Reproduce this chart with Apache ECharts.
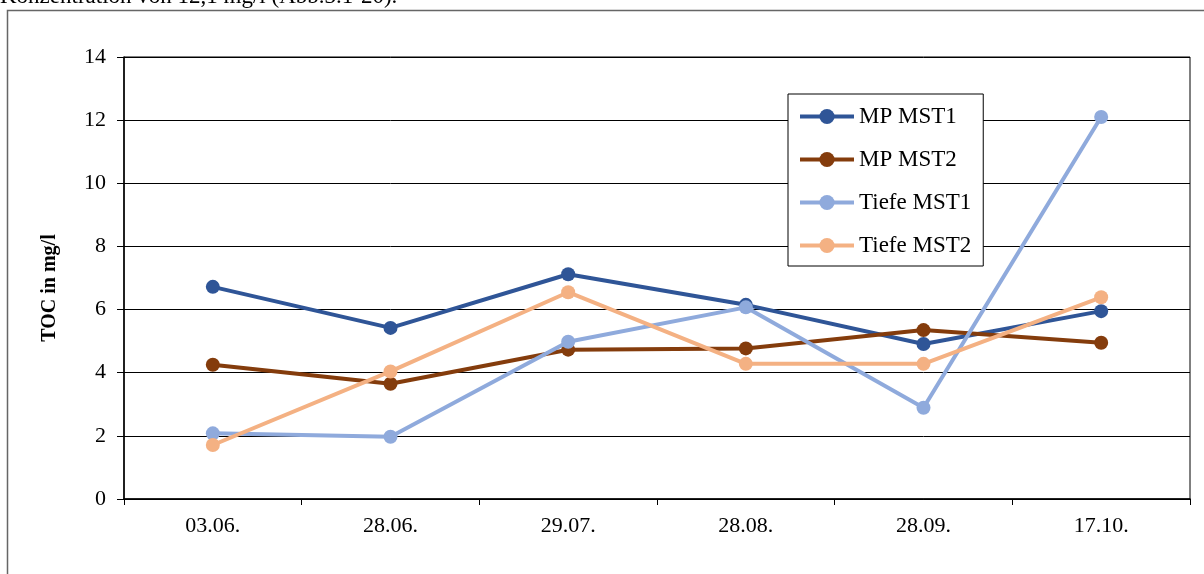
<!DOCTYPE html>
<html>
<head>
<meta charset="utf-8">
<script src="https://cdn.jsdelivr.net/npm/echarts@6/dist/echarts.min.js"></script>
<style>
html,body{margin:0;padding:0;background:#fff;}
#chart{width:1204px;height:574px;}
</style>
</head>
<body>
<div id="chart"></div>
<script>
const categories = ['03.06.', '28.06.', '29.07.', '28.08.', '28.09.', '17.10.'];
const mpMst1 = [6.72, 5.42, 7.12, 6.15, 4.91, 5.95];
const mpMst2 = [4.25, 3.65, 4.73, 4.77, 5.35, 4.95];
const tiefeMst1 = [2.08, 1.97, 4.98, 6.07, 2.89, 12.1];
const tiefeMst2 = [1.71, 4.04, 6.55, 4.28, 4.28, 6.39];
const seriesNames = ['MP MST1', 'MP MST2', 'Tiefe MST1', 'Tiefe MST2'];
const seriesColors = ['#2F5597', '#843C0C', '#8FAADC', '#F4B183'];
const yTitle = 'TOC in mg/l';
const headText = 'Konzentration von 12,1 mg/l (Abb.3.1-20).';

const FONT = '"Liberation Serif", "Times New Roman", serif';
const chart = echarts.init(document.getElementById('chart'), null, {renderer: 'canvas'});
const dataSets = [mpMst1, mpMst2, tiefeMst1, tiefeMst2];

chart.setOption({
  animation: false,
  backgroundColor: '#fff',
  graphic: [
    {type: 'rect', shape: {x: 7.5, y: 10.5, width: 1230, height: 620}, style: {fill: 'none', stroke: '#666', lineWidth: 1.5}, silent: true, z: -1},
    {type: 'text', left: 0, top: -15, style: {text: headText, font: '23px ' + FONT, fill: '#000'}, silent: true},
    {type: 'text', x: 50, y: 288, rotation: Math.PI / 2, style: {text: yTitle, font: 'bold 20px ' + FONT, fill: '#000', align: 'center', verticalAlign: 'middle'}, silent: true}
  ],
  legend: {
    orient: 'vertical',
    left: 788,
    top: 94,
    data: seriesNames,
    itemWidth: 54,
    itemHeight: 19,
    itemGap: 20,
    padding: [11, 12, 9, 10],
    borderColor: '#000',
    borderWidth: 1,
    backgroundColor: '#fff',
    lineStyle: {width: 4},
    textStyle: {fontFamily: FONT, fontSize: 23, color: '#000', lineHeight: 23}
  },
  grid: {
    left: 124, right: 14, top: 57, bottom: 75,
    show: true, borderColor: '#000', borderWidth: 1, backgroundColor: 'transparent'
  },
  xAxis: {
    type: 'category',
    data: categories,
    boundaryGap: true,
    axisLine: {lineStyle: {color: '#000', width: 1.5}},
    axisTick: {show: true, length: 6, inside: false, lineStyle: {color: '#000'}},
    axisLabel: {color: '#000', fontFamily: FONT, fontSize: 22, margin: 16}
  },
  yAxis: {
    type: 'value',
    min: 0, max: 14, interval: 2,
    axisLine: {show: true, lineStyle: {color: '#000', width: 1.5}},
    axisTick: {show: true, length: 7, lineStyle: {color: '#000'}},
    axisLabel: {color: '#000', fontFamily: FONT, fontSize: 22, margin: 18},
    splitLine: {show: true, lineStyle: {color: '#000', width: 1}}
  },
  series: seriesNames.map((n, i) => ({
    name: n,
    type: 'line',
    data: dataSets[i],
    symbol: 'circle',
    symbolSize: 14,
    color: seriesColors[i],
    lineStyle: {width: 4, color: seriesColors[i]},
    itemStyle: {color: seriesColors[i]},
    z: 2 + i
  }))
});
</script>
</body>
</html>
